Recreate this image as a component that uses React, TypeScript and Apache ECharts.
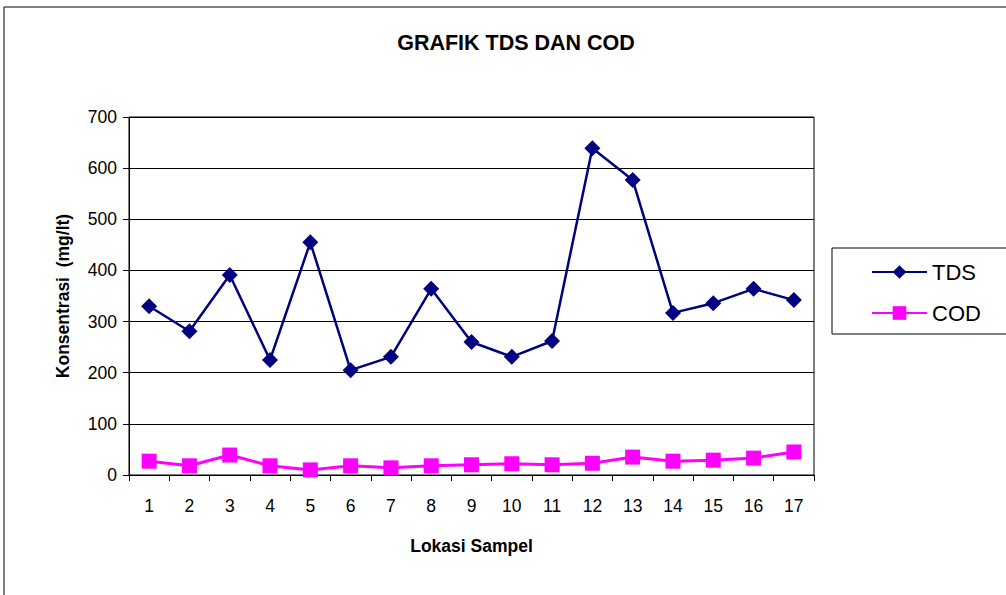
import React, { useEffect, useRef } from "react";
import * as echarts from "echarts";

const categories = ["1","2","3","4","5","6","7","8","9","10","11","12","13","14","15","16","17"];
const tdsValues = [330, 281, 391, 225, 455, 205, 231, 364, 260, 231, 262, 639, 577, 317, 336, 364, 342];
const codValues = [27, 18, 39, 18, 10, 18, 14, 18, 20, 22, 20, 23, 35, 27, 29, 33, 45];

export default function App() {
  const ref = useRef<HTMLDivElement>(null);
  useEffect(() => {
    document.body.style.margin = "0";
    const chart = echarts.init(ref.current!, null, { renderer: "svg" });
    const font = "'Liberation Sans', Arial, sans-serif";
    chart.setOption({
      animation: false,
      backgroundColor: "#fff",
      title: {
        text: "GRAFIK TDS DAN COD",
        left: 511,
        textAlign: "center",
        top: 27,
        textStyle: { fontFamily: font, fontSize: 21.5, fontWeight: "bold", color: "#000" },
      },
      graphic: [
        { type: "rect", shape: { x: 4, y: 7, width: 1100, height: 700 }, style: { fill: "none", stroke: "#000", lineWidth: 1 }, silent: true },
        { type: "rect", shape: { x: 832, y: 248, width: 300, height: 86 }, style: { fill: "#fff", stroke: "#000", lineWidth: 1 }, silent: true, z: 0 },
      ],
      legend: {
        orient: "vertical",
        left: 866,
        top: 256,
        itemWidth: 55,
        itemHeight: 17,
        itemGap: 19,
        z: 10,
        textStyle: { fontFamily: font, fontSize: 22, color: "#000" },
        data: ["TDS", "COD"],
      },
      grid: {
        left: 129,
        right: 192,
        top: 117,
        bottom: 120,
        show: true,
        borderColor: "#000",
        borderWidth: 1,
      },
      xAxis: {
        type: "category",
        data: categories,
        boundaryGap: true,
        name: "Lokasi Sampel",
        nameLocation: "middle",
        nameGap: 62,
        nameTextStyle: { fontFamily: font, fontSize: 17.5, fontWeight: "bold", color: "#000" },
        axisLine: { lineStyle: { color: "#000", width: 1 } },
        axisTick: { show: true, length: 6, lineStyle: { color: "#000" }, alignWithLabel: false },
        axisLabel: { fontFamily: font, fontSize: 17.5, color: "#000", margin: 22 },
      },
      yAxis: {
        type: "value",
        min: 0,
        max: 700,
        interval: 100,
        name: "Konsentrasi  (mg/lt)",
        nameLocation: "middle",
        nameGap: 57,
        nameTextStyle: { fontFamily: font, fontSize: 17.5, fontWeight: "bold", color: "#000" },
        axisLine: { show: true, lineStyle: { color: "#000", width: 1 } },
        axisTick: { show: true, length: 6, lineStyle: { color: "#000" } },
        axisLabel: { fontFamily: font, fontSize: 17.5, color: "#000", margin: 12 },
        splitLine: { show: true, lineStyle: { color: "#000", width: 1 } },
      },
      series: [
        {
          name: "TDS",
          type: "line",
          data: tdsValues,
          symbol: "diamond",
          symbolSize: 16,
          color: "#000080",
          lineStyle: { color: "#000080", width: 2.5 },
          itemStyle: { color: "#000080" },
        },
        {
          name: "COD",
          type: "line",
          data: codValues,
          symbol: "rect",
          symbolSize: 15,
          color: "#FF00FF",
          lineStyle: { color: "#FF00FF", width: 3 },
          itemStyle: { color: "#FF00FF" },
        },
      ],
    });
    return () => chart.dispose();
  }, []);
  return <div ref={ref} style={{ width: 1006, height: 595 }} />;
}
